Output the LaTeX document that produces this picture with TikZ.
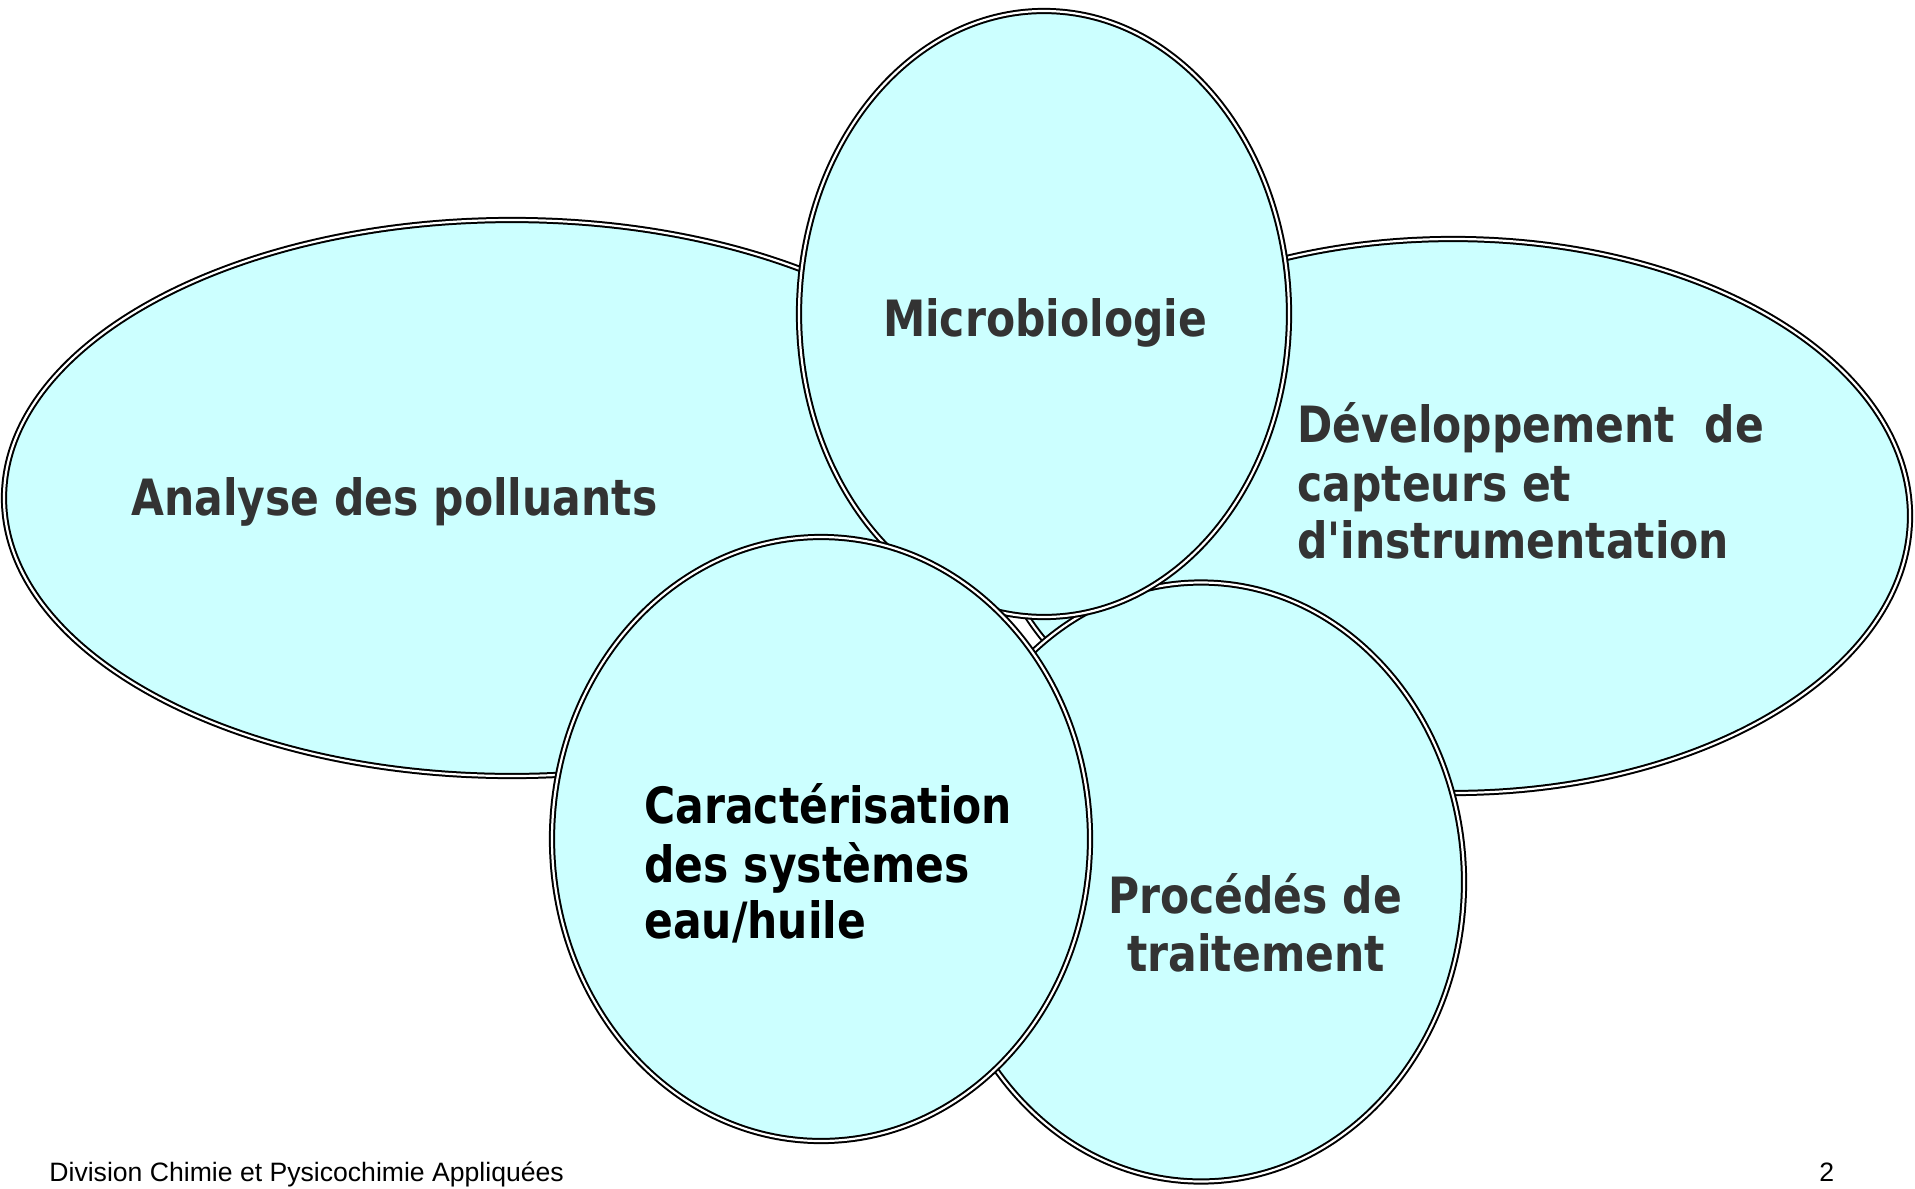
\documentclass[tikz,border=0pt]{standalone}
\usepackage{fontspec}
\usetikzlibrary{shapes.geometric}
\newfontfamily\labfont[FakeStretch=0.85]{DejaVu Sans}
\newfontfamily\footfont{Liberation Sans}
\definecolor{cyanfill}{HTML}{CCFFFF}
\definecolor{labgray}{HTML}{333333}
\tikzset{
  blob/.style={ellipse, draw=black, line width=1pt, double=white, double distance=1.1pt,
    fill=cyanfill, inner sep=0pt, outer sep=0pt},
  lab/.style={font=\labfont\bfseries\fontsize{25}{30}\selectfont, text=labgray, inner sep=0pt, anchor=base west},
  labc/.style={lab, anchor=base},
  foot/.style={font=\footfont\fontsize{13.3}{15}\selectfont, text=black, inner sep=0pt, anchor=base west}
}
\begin{document}
\begin{tikzpicture}[x=0.5pt,y=-0.5pt]
\useasboundingbox[fill=white] (0,0) rectangle (1915,1188);
% ellipses, in drawing order
\node[blob, minimum width=508pt, minimum height=278pt] (analyse) at (512,498) {};
\node[blob, minimum width=457pt, minimum height=277pt] (dev) at (1453,516) {};
\node[blob, minimum width=263pt, minimum height=299.5pt] (proc) at (1201,882) {};
\node[blob, minimum width=245pt, minimum height=303pt] (micro) at (1044,314) {};
\node[blob, minimum width=269pt, minimum height=302pt] (carac) at (821,839) {};
% labels
\node[labc] (tmicro) at (1045,336) {Microbiologie};
\node[lab] (tanal) at (131,515) {Analyse des polluants};
\node[lab] (tdev1) at (1297,442) {Développement\ \ de};
\node[lab] (tdev2) at (1297,501) {capteurs et};
\node[lab] (tdev3) at (1297,558) {d'instrumentation};
\node[labc] (tproc1) at (1255,913) {Procédés de};
\node[labc] (tproc2) at (1256,971) {traitement};
\node[lab, text=black] (tcar1) at (644,823) {Caractérisation};
\node[lab, text=black] (tcar2) at (644,882) {des systèmes};
\node[lab, text=black] (tcar3) at (644,938) {eau/huile};
% footer
\node[foot] (footer) at (49,1181) {Division Chimie et Pysicochimie Appliquées};
\node[foot] (page) at (1819,1181) {2};
\end{tikzpicture}
\end{document}
